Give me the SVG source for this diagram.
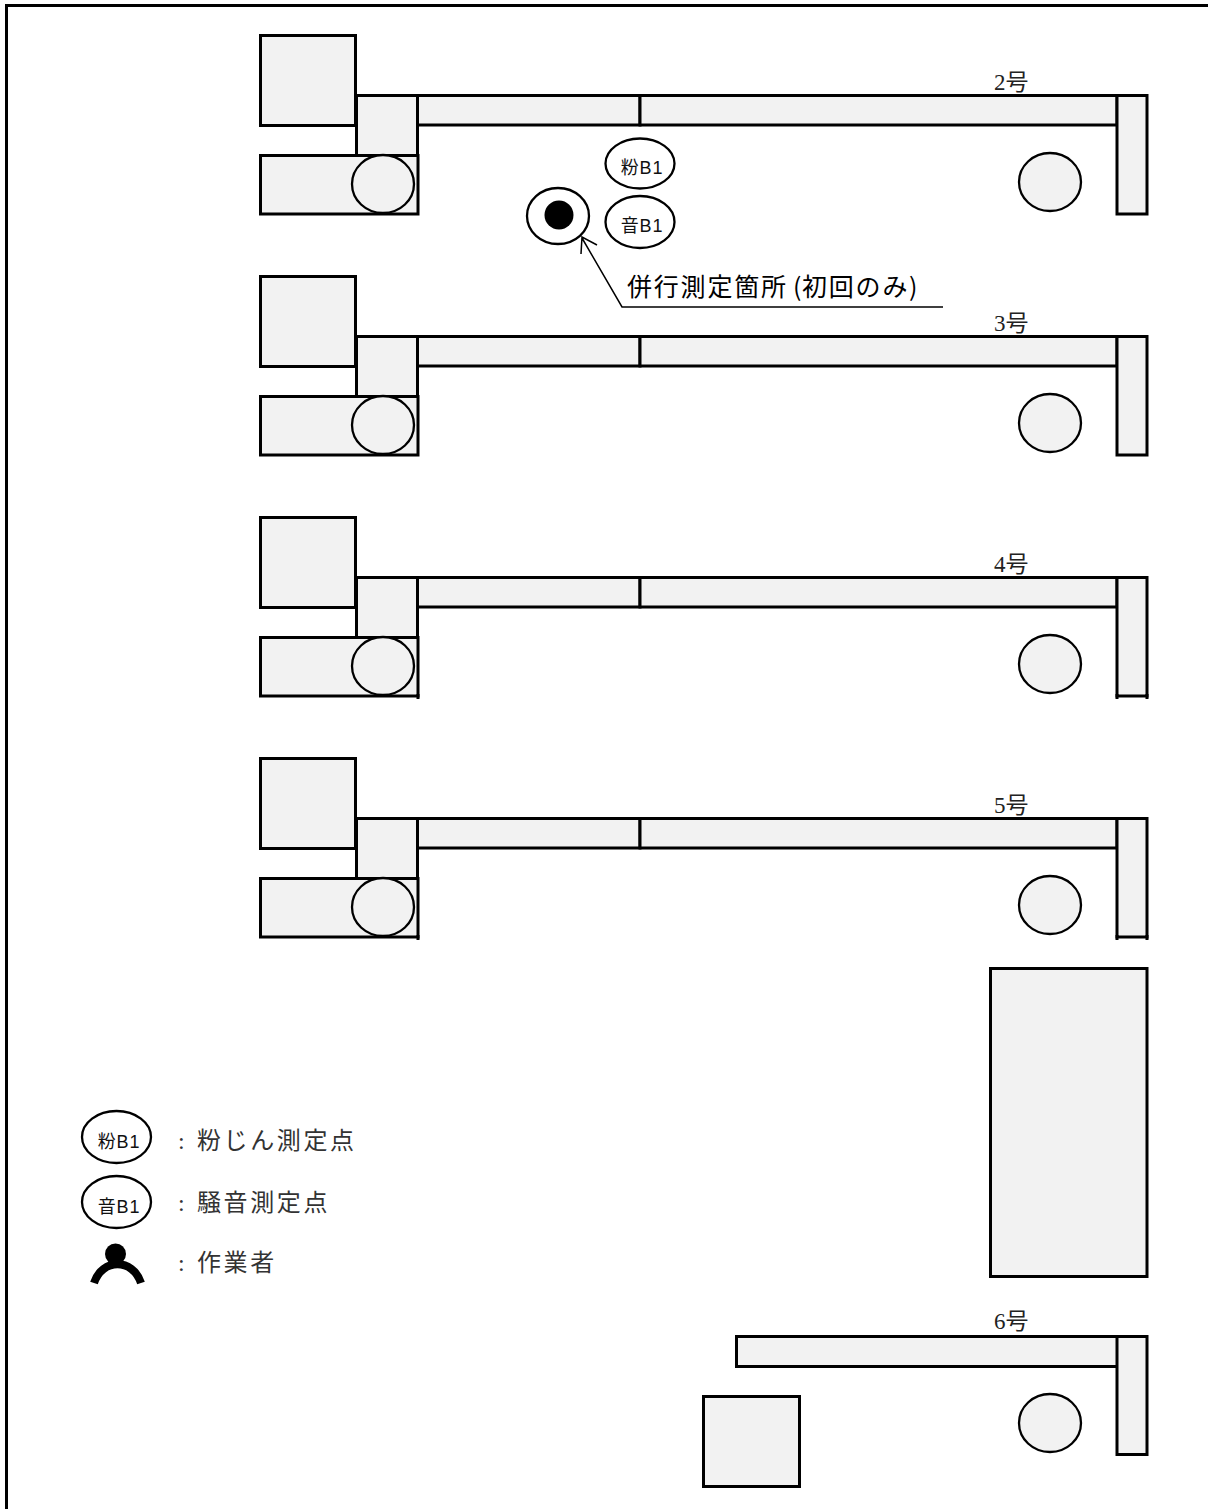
<svg xmlns="http://www.w3.org/2000/svg" width="1208" height="1509" viewBox="0 0 1208 1509">
<style>
.s{fill:#f2f2f2;stroke:#000;stroke-width:3}
.c{fill:#f2f2f2;stroke:#000;stroke-width:2.300}
.m{fill:#fff;stroke:#000;stroke-width:2.300}
.t{font-family:"Liberation Serif","Noto Sans CJK JP",serif;fill:#222}
.l{font-size:23px}
.g{font-size:24px;letter-spacing:2.600px;fill:#333}
.p{font-family:"Liberation Sans","Noto Sans CJK JP",sans-serif;font-size:18px;letter-spacing:.8px;fill:#111;text-anchor:middle}
.a{font-family:"Noto Sans CJK JP","Liberation Sans",sans-serif;font-size:25px;letter-spacing:1.800px;fill:#000}
.n{fill:none;stroke:#000}
</style>
<defs>
<g id="unit">
<rect class="s" x="260.500" y="35.500" width="95" height="90"/>
<rect class="s" x="356.500" y="95.500" width="61" height="60"/>
<rect class="s" x="417.500" y="95.500" width="222.500" height="29.500"/>
<rect class="s" x="640" y="95.500" width="477" height="29.500"/>
<rect class="s" x="260.500" y="155.500" width="157.500" height="58.500"/>
<ellipse class="c" cx="383" cy="184" rx="31" ry="29"/>
<rect class="s" x="1117" y="95.500" width="30" height="118.500"/>
<ellipse class="c" cx="1050" cy="182" rx="31" ry="29"/>
</g>
</defs>
<g id="frame"><path d="M6.500 1509V5.500H1208" fill="none" stroke="#000" stroke-width="3"/></g>
<g id="unit-2"><use href="#unit"/><text class="t l" x="994" y="90">2号</text></g>
<g id="unit-3"><use href="#unit" y="241"/><text class="t l" x="994" y="331">3号</text></g>
<g id="unit-4"><use href="#unit" y="482"/><text class="t l" x="994" y="572">4号</text>
<path class="n" stroke-width="3" d="M418 694V699M1117 694V699M1147 694V699"/></g>
<g id="unit-5"><use href="#unit" y="723"/><text class="t l" x="994" y="813">5号</text>
<path class="n" stroke-width="3" d="M418 935V940M1117 935V940M1147 935V940"/></g>
<g id="block"><rect class="s" x="990.500" y="968.500" width="156.500" height="308"/></g>
<g id="unit-6">
<rect class="s" x="736.500" y="1336.500" width="381" height="30"/>
<rect class="s" x="1117" y="1336.500" width="30" height="118"/>
<ellipse class="c" cx="1050" cy="1423" rx="31" ry="29"/>
<rect class="s" x="703.500" y="1396.500" width="96" height="90"/>
<text class="t l" x="994" y="1329">6号</text>
</g>
<g id="marker-dust"><ellipse class="m" cx="640" cy="163.500" rx="34.500" ry="25"/><text class="p" x="642" y="174">粉B1</text></g>
<g id="marker-noise"><ellipse class="m" cx="640" cy="222" rx="34.500" ry="26"/><text class="p" x="642" y="232">音B1</text></g>
<g id="worker-point"><ellipse class="m" cx="558" cy="216" rx="31" ry="28"/><circle cx="559" cy="215" r="14.500" fill="#000"/></g>
<g id="connectors">
<path class="n" stroke-width="1.500" d="M943 307H622L582 238M597 245L582 237L581 254"/>
</g>
<g id="callout"><text class="a" y="295.500"><tspan x="627">併行測定箇所</tspan><tspan x="793">(</tspan><tspan x="802">初回のみ</tspan><tspan x="909">)</tspan></text></g>
<g id="legend">
<g id="legend-dust"><ellipse class="m" cx="116.500" cy="1137" rx="34.500" ry="26"/><text class="p" x="119" y="1148">粉B1</text><text class="t g" y="1148.500"><tspan x="178">:</tspan><tspan x="197">粉じん測定点</tspan></text></g>
<g id="legend-noise"><ellipse class="m" cx="116.500" cy="1202" rx="34.500" ry="26"/><text class="p" x="119" y="1213">音B1</text><text class="t g" y="1210.500"><tspan x="178">:</tspan><tspan x="197">騒音測定点</tspan></text></g>
<g id="legend-worker"><circle cx="115.500" cy="1254" r="10.500" fill="#000"/><path d="M94 1283C102 1258 133 1258 141 1283" fill="none" stroke="#000" stroke-width="8"/><text class="t g" y="1270.500"><tspan x="178">:</tspan><tspan x="197">作業者</tspan></text></g>
</g>
</svg>
